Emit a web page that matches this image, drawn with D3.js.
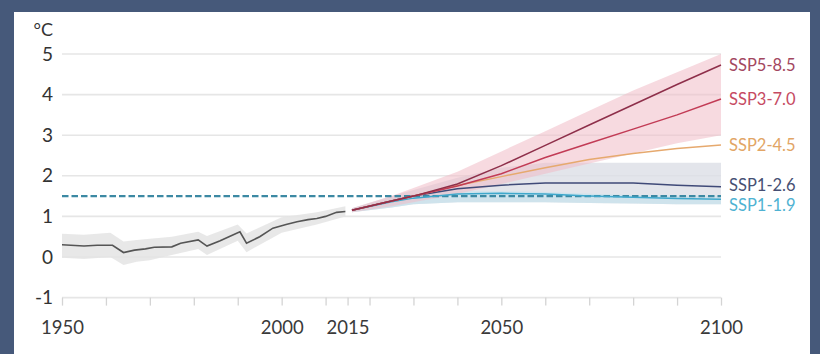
<!DOCTYPE html>
<html>
<head>
<meta charset="utf-8">
<script src="https://cdn.jsdelivr.net/npm/d3@7"></script>
<style>
  html, body { margin: 0; padding: 0; background: #46597a; }
  svg { display: block; font-family: Lato, "Open Sans", sans-serif; }
</style>
</head>
<body>
<div id="chart"></div>
<script>
// historical observations (°C relative to 1850-1900)
const histYears = [1950, 1952, 1955, 1958, 1961.5, 1964, 1966.5, 1969, 1971, 1975, 1977, 1981, 1983, 1986, 1988, 1990.5, 1992, 1995, 1998, 2001, 2003.5, 2006, 2008, 2010, 2012.5, 2014.5];
const histValues = [0.30, 0.29, 0.27, 0.29, 0.29, 0.11, 0.17, 0.20, 0.24, 0.25, 0.34, 0.42, 0.27, 0.40, 0.50, 0.62, 0.34, 0.50, 0.71, 0.80, 0.87, 0.92, 0.95, 1.00, 1.10, 1.12];
const histBandYears = [1950, 1955, 1961, 1964, 1967, 1970, 1975, 1981, 1983, 1990, 1992, 2000, 2008, 2014.5];
const histUpper = [0.57, 0.55, 0.60, 0.38, 0.42, 0.45, 0.50, 0.62, 0.52, 0.80, 0.58, 0.98, 1.10, 1.25];
const histLower = [-0.02, -0.05, 0.00, -0.20, -0.12, -0.08, 0.05, 0.20, 0.05, 0.40, 0.12, 0.60, 0.80, 1.00];

// projections
const projYears = [2016, 2025, 2030, 2040, 2050, 2060, 2070, 2080, 2090, 2100];
const ssp585 = [1.15, 1.38, 1.50, 1.80, 2.25, 2.75, 3.25, 3.75, 4.25, 4.73];
const ssp370 = [1.15, 1.38, 1.50, 1.75, 2.05, 2.45, 2.80, 3.15, 3.50, 3.89];
const ssp245 = [1.15, 1.38, 1.50, 1.76, 1.98, 2.20, 2.40, 2.55, 2.67, 2.76];
const ssp126 = [1.15, 1.38, 1.50, 1.68, 1.77, 1.82, 1.82, 1.82, 1.77, 1.73];
const ssp119 = [1.15, 1.36, 1.45, 1.55, 1.57, 1.55, 1.50, 1.47, 1.44, 1.42];
const highUpper = [1.20, 1.50, 1.70, 2.10, 2.60, 3.10, 3.60, 4.10, 4.55, 5.00];
const highLower = [1.10, 1.25, 1.35, 1.55, 1.80, 2.05, 2.30, 2.55, 2.80, 3.00];
const lowUpper = [1.20, 1.50, 1.65, 1.95, 2.20, 2.32, 2.32, 2.32, 2.32, 2.32];
const lowLower = [1.10, 1.22, 1.30, 1.35, 1.35, 1.35, 1.33, 1.32, 1.30, 1.30];
const vlowUpper = [1.20, 1.45, 1.55, 1.62, 1.62, 1.60, 1.56, 1.53, 1.51, 1.50];
const vlowLower = [1.10, 1.22, 1.30, 1.35, 1.35, 1.35, 1.33, 1.32, 1.30, 1.30];

const threshold = 1.5;
const scenarioNames = ["SSP5-8.5", "SSP3-7.0", "SSP2-4.5", "SSP1-2.6", "SSP1-1.9"];
const scenarioColors = ["#8e2f4a", "#c23b55", "#e6a96e", "#3f4a78", "#3fa8cc"];
const labelColors = ["#a3475f", "#c64a62", "#e2a565", "#464f73", "#4fb2d2"];
const labelValues = [4.73, 3.89, 2.76, 1.78, 1.28];

const yTicks = [-1, 0, 1, 2, 3, 4, 5];
const xTicks = [1950, 1960, 1970, 1980, 1990, 2000, 2010, 2015, 2020, 2030, 2040, 2050, 2060, 2070, 2080, 2090, 2100];
const xLabels = [1950, 2000, 2015, 2050, 2100];

const W = 820, H = 354;
const svg = d3.select("#chart").append("svg").attr("width", W).attr("height", H);

// white panel inside the frame
svg.append("rect").attr("x", 14).attr("y", 12).attr("width", 796).attr("height", H - 12)
  .attr("fill", "#fff");

const x = d3.scaleLinear().domain([1950, 2100]).range([62, 721]);
const y = d3.scaleLinear().domain([-1, 5]).range([297.6, 54]);

// gridlines
svg.append("g").selectAll("line").data(yTicks).enter().append("line")
  .attr("x1", x(1950)).attr("x2", x(2100))
  .attr("y1", d => y(d)).attr("y2", d => y(d))
  .attr("stroke", "#e6e6e6").attr("stroke-width", 1.6);

// y axis labels (plain hyphen for -1, as in the source)
const yAxis = d3.axisLeft(y).tickValues(yTicks).tickSize(0).tickPadding(9).tickFormat(d => String(d));
const gy = svg.append("g").attr("transform", `translate(${x(1950)},0)`).call(yAxis);
gy.select(".domain").remove();
gy.selectAll("text").attr("font-size", 19).attr("fill", "#333").attr("font-family", "Lato, sans-serif");

svg.append("text").attr("x", 53).attr("y", 36).attr("text-anchor", "end")
  .attr("font-size", 18).attr("fill", "#333").text("°C");

// x axis
const xAxis = d3.axisBottom(x).tickValues(xTicks).tickSize(8).tickPadding(15)
  .tickFormat(d => xLabels.includes(d) ? d : "");
const gx = svg.append("g").attr("transform", `translate(0,${y(-1)})`).call(xAxis);
gx.select(".domain").remove();
gx.selectAll("line").attr("stroke", "#d4d4d4").attr("stroke-width", 1.3);
gx.selectAll("text").attr("font-size", 18.5).attr("fill", "#3a3a3a").attr("font-family", "Lato, sans-serif");

const area = (ys, up, lo) => d3.area()
  .x((d, i) => x(ys[i])).y0((d, i) => y(lo[i])).y1((d, i) => y(up[i]))(up);
const line = (ys, vals) => d3.line().x((d, i) => x(ys[i])).y(d => y(d))(vals);

// historical band
svg.append("path").attr("d", area(histBandYears, histUpper, histLower))
  .attr("fill", "#e4e4e4").attr("opacity", 0.85);

// projection bands
svg.append("path").attr("d", area(projYears, lowUpper, lowLower))
  .attr("fill", "#dcdee6").attr("opacity", 0.8);
svg.append("path").attr("d", area(projYears, vlowUpper, vlowLower))
  .attr("fill", "#c6e2ec").attr("opacity", 0.7);
svg.append("path").attr("d", area(projYears, highUpper, highLower))
  .attr("fill", "#f0bcc6").attr("opacity", 0.55);

// historical line
svg.append("path").attr("d", line(histYears, histValues))
  .attr("fill", "none").attr("stroke", "#555").attr("stroke-width", 1.6);

// 1.5 °C threshold
svg.append("line").attr("x1", x(1950)).attr("x2", x(2100))
  .attr("y1", y(threshold)).attr("y2", y(threshold))
  .attr("stroke", "#3c89a3").attr("stroke-width", 2.4).attr("stroke-dasharray", "6.5,3");

// scenario lines, drawn from low to high
const scenarios = [ssp585, ssp370, ssp245, ssp126, ssp119];
[4, 3, 2, 1, 0].forEach(i => {
  svg.append("path").attr("d", line(projYears, scenarios[i]))
    .attr("fill", "none").attr("stroke", scenarioColors[i]).attr("stroke-width", 1.5);
});

// labels
svg.append("g").selectAll("text").data(scenarioNames).enter().append("text")
  .attr("x", 729).attr("y", (d, i) => y(labelValues[i]))
  .attr("dy", "0.36em").attr("font-size", 16.5)
  .attr("fill", (d, i) => labelColors[i]).text(d => d);
</script>
</body>
</html>
